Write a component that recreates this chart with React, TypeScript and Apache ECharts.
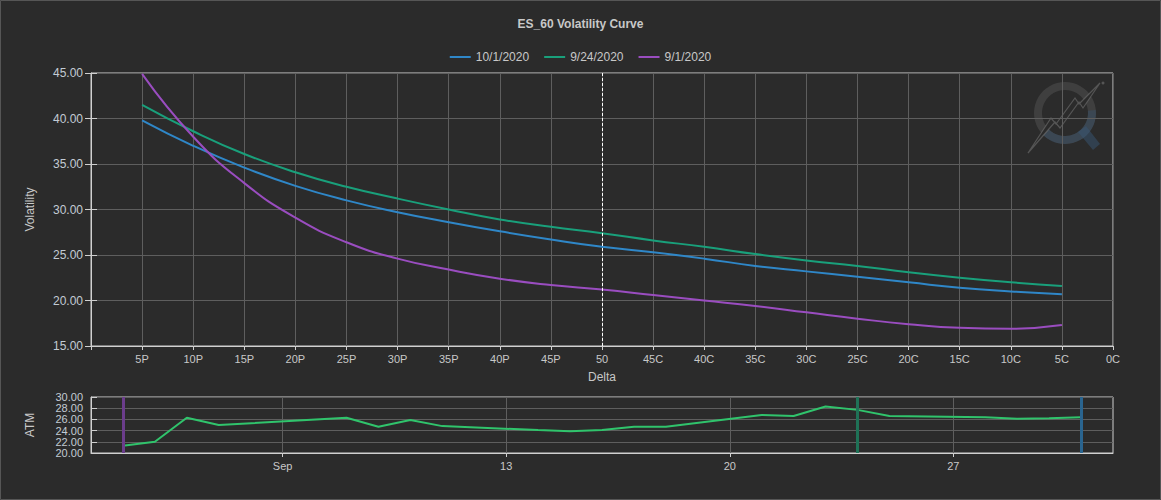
import React, { useEffect, useRef } from "react";
import * as echarts from "echarts";

// ---------- data ----------
const seriesNames = ["10/1/2020", "9/24/2020", "9/1/2020"];
const seriesDates = ["2020-10-01", "2020-09-24", "2020-09-01"];
const seriesColors = ["#2f87c8", "#19a07b", "#9a4dc0"];
const markerColors = ["#2a6590", "#1f7257", "#6b3d8c"];

// delta positions (5P ... 50 ... 5C) on a 0..100 scale
const deltaPositions = [5, 10, 15, 20, 25, 30, 35, 40, 45, 50, 55, 60, 65, 70, 75, 80, 85, 90, 95];
const xTickLabels = [
  "", "5P", "10P", "15P", "20P", "25P", "30P", "35P", "40P", "45P",
  "50", "45C", "40C", "35C", "30C", "25C", "20C", "15C", "10C", "5C", "0C",
];

const vol_10_1 = [39.8, 37.0, 34.6, 32.6, 31.0, 29.7, 28.6, 27.6, 26.7, 25.9, 25.3, 24.6, 23.8, 23.2, 22.6, 22.0, 21.4, 21.0, 20.7];
const vol_9_24 = [41.5, 38.6, 36.1, 34.1, 32.5, 31.2, 30.0, 28.9, 28.1, 27.4, 26.6, 25.9, 25.1, 24.4, 23.8, 23.1, 22.5, 22.0, 21.6];
const vol_9_1 = [44.9, 38.0, 32.9, 29.1, 26.4, 24.6, 23.4, 22.4, 21.7, 21.2, 20.6, 20.0, 19.4, 18.7, 18.0, 17.4, 17.0, 16.9, 17.3];
const volSeries = [vol_10_1, vol_9_24, vol_9_1];

const atmDates = [
  "2020-09-01", "2020-09-02", "2020-09-03", "2020-09-04", "2020-09-08", "2020-09-09",
  "2020-09-10", "2020-09-11", "2020-09-14", "2020-09-15", "2020-09-16", "2020-09-17",
  "2020-09-18", "2020-09-21", "2020-09-22", "2020-09-23", "2020-09-24", "2020-09-25",
  "2020-09-28", "2020-09-29", "2020-09-30", "2020-10-01",
];
const atmValues = [
  21.3, 22.0, 26.3, 25.0, 26.3, 24.7,
  25.9, 24.8, 24.1, 23.9, 24.1, 24.7,
  24.7, 26.8, 26.6, 28.3, 27.7, 26.6,
  26.4, 26.1, 26.2, 26.4,
];
const atmTickDates = ["2020-09-06", "2020-09-13", "2020-09-20", "2020-09-27"];
const atmTickLabels = ["Sep", "13", "20", "27"];
const atmRange = ["2020-08-31", "2020-10-02"];

// ---------- helpers ----------
const DAY = 86400000;
function calendarDays(from: string, to: string): string[] {
  const out: string[] = [];
  for (let t = Date.parse(from); t <= Date.parse(to); t += DAY) {
    out.push(new Date(t).toISOString().slice(0, 10));
  }
  return out;
}

const FONT = "'Liberation Sans', Arial, sans-serif";
const AXIS_COLOR = "#d0d0d0";
const GRID_COLOR = "#5e5e5e";
const LABEL_COLOR = "#c8c8c8";
const YLABEL_COLOR = "#c3cbd4";

function buildOption() {
  const axisDays = calendarDays(atmRange[0], atmRange[1]);
  const isTickDay = (_i: number, v: string) => atmTickDates.indexOf(v) >= 0;
  const atmData = atmDates.map((d, i) => [d, atmValues[i]]);

  const mainSeries = volSeries.map((vals, i) => ({
    name: seriesNames[i],
    type: "line",
    xAxisIndex: 0,
    yAxisIndex: 0,
    smooth: true,
    showSymbol: false,
    symbol: "none",
    color: seriesColors[i],
    lineStyle: { width: 2, color: seriesColors[i] },
    data: vals.map((v, j) => [deltaPositions[j], v]),
    z: 3,
    ...(i === 0
      ? {
          markLine: {
            silent: true,
            symbol: ["none", "none"],
            label: { show: false },
            lineStyle: { color: "#ffffff", type: [3, 2], width: 1 },
            data: [{ xAxis: 50 }],
          },
        }
      : {}),
  }));

  return {
    animation: false,
    backgroundColor: "#2b2b2b",
    textStyle: { fontFamily: FONT },
    title: {
      text: "ES_60 Volatility Curve",
      left: "center",
      top: 13,
      textStyle: { color: LABEL_COLOR, fontSize: 12, fontWeight: "bold", fontFamily: FONT },
    },
    legend: {
      top: 46,
      left: "center",
      icon: "rect",
      itemWidth: 21,
      itemHeight: 2,
      itemGap: 15,
      textStyle: { color: LABEL_COLOR, fontSize: 12, fontFamily: FONT },
      data: seriesNames,
    },
    grid: [
      { left: 91, right: 48, top: 73, height: 273, show: true, borderColor: AXIS_COLOR, borderWidth: 1 },
      { left: 91, right: 48, top: 397, height: 56, show: true, borderColor: AXIS_COLOR, borderWidth: 1 },
    ],
    xAxis: [
      {
        gridIndex: 0,
        type: "value",
        min: 0,
        max: 100,
        interval: 5,
        name: "Delta",
        nameLocation: "middle",
        nameGap: 25,
        nameTextStyle: { color: LABEL_COLOR, fontSize: 12 },
        axisLine: { show: true, lineStyle: { color: AXIS_COLOR } },
        axisTick: { show: true, length: 4, lineStyle: { color: AXIS_COLOR } },
        axisLabel: {
          color: LABEL_COLOR,
          fontSize: 11,
          margin: 7,
          formatter: (v: number) => xTickLabels[Math.round(v / 5)] ?? "",
        },
        splitLine: { show: true, lineStyle: { color: GRID_COLOR } },
      },
      {
        gridIndex: 1,
        type: "category",
        data: axisDays,
        boundaryGap: false,
        axisLine: { show: true, lineStyle: { color: AXIS_COLOR } },
        axisTick: { show: true, length: 4, interval: isTickDay, lineStyle: { color: AXIS_COLOR } },
        axisLabel: {
          color: LABEL_COLOR,
          fontSize: 11,
          margin: 7,
          interval: isTickDay,
          formatter: (v: string) => {
            const k = atmTickDates.indexOf(v);
            return k >= 0 ? atmTickLabels[k] : "";
          },
        },
        splitLine: { show: true, interval: isTickDay, lineStyle: { color: GRID_COLOR } },
      },
    ],
    yAxis: [
      {
        gridIndex: 0,
        type: "value",
        min: 15,
        max: 45,
        interval: 5,
        name: "Volatility",
        nameLocation: "middle",
        nameGap: 55,
        nameTextStyle: { color: LABEL_COLOR, fontSize: 12 },
        axisLine: { show: true, lineStyle: { color: AXIS_COLOR } },
        axisTick: { show: true, length: 6, lineStyle: { color: AXIS_COLOR } },
        axisLabel: { color: YLABEL_COLOR, fontSize: 12, margin: 8, formatter: (v: number) => v.toFixed(2) },
        splitLine: { show: true, lineStyle: { color: GRID_COLOR } },
      },
      {
        gridIndex: 0,
        type: "value",
        min: 15,
        max: 45,
        interval: 5,
        position: "left",
        axisLine: { show: false },
        axisTick: { show: true, inside: true, length: 6, lineStyle: { color: AXIS_COLOR } },
        axisLabel: { show: false },
        splitLine: { show: false },
      },
      {
        gridIndex: 1,
        type: "value",
        min: 20,
        max: 30,
        interval: 2,
        name: "ATM",
        nameLocation: "middle",
        nameGap: 55,
        nameTextStyle: { color: LABEL_COLOR, fontSize: 12 },
        axisLine: { show: true, lineStyle: { color: AXIS_COLOR } },
        axisTick: { show: true, inside: true, length: 6, lineStyle: { color: AXIS_COLOR } },
        axisLabel: { color: YLABEL_COLOR, fontSize: 11, margin: 8, formatter: (v: number) => v.toFixed(2) },
        splitLine: { show: true, lineStyle: { color: GRID_COLOR } },
      },
    ],
    series: [
      ...mainSeries,
      {
        name: "ATM",
        type: "line",
        xAxisIndex: 1,
        yAxisIndex: 2,
        showSymbol: false,
        symbol: "none",
        color: "#30c46c",
        lineStyle: { width: 2, color: "#30c46c" },
        data: atmData,
        z: 3,
        markLine: {
          silent: true,
          symbol: ["none", "none"],
          label: { show: false },
          data: seriesDates.map((d, i) => ({
            xAxis: d,
            lineStyle: { color: markerColors[i], width: 3, type: "solid" },
          })),
        },
      },
    ],
    graphic: [
      {
        type: "rect",
        silent: true,
        shape: { x: 0.5, y: 0.5, width: 1160, height: 499 },
        style: { fill: "none", stroke: "#565656", lineWidth: 1 },
      },
      {
        type: "group",
        silent: true,
        z: -1,
        children: [
          {
            type: "ring",
            shape: { cx: 1065, cy: 113, r: 31, r0: 23 },
            style: { fill: "rgba(110,110,110,0.3)" },
          },
          {
            type: "sector",
            shape: { cx: 1065, cy: 113, r: 31, r0: 23, startAngle: -0.1, endAngle: Math.PI * 0.75 },
            style: { fill: "rgba(55,85,115,0.4)" },
          },
          {
            type: "polygon",
            shape: { points: [[1078, 132], [1086, 126], [1100, 144], [1093, 150]] },
            style: { fill: "rgba(55,85,115,0.5)" },
          },
          {
            type: "polygon",
            shape: {
              points: [
                [1028, 153], [1051, 118], [1056, 124], [1075, 98], [1079, 104], [1100, 83],
                [1083, 108], [1079, 102], [1060, 128], [1055, 122],
              ],
            },
            style: { fill: "#2b2b2b", stroke: "rgba(120,120,120,0.55)", lineWidth: 1.2 },
          },
          {
            type: "circle",
            shape: { cx: 1103, cy: 83, r: 1.5 },
            style: { fill: "rgba(120,120,120,0.55)" },
          },
        ],
      },
    ],
  };
}

export default function App() {
  const ref = useRef<HTMLDivElement>(null);
  useEffect(() => {
    if (!ref.current) return;
    const chart = echarts.init(ref.current, null, { renderer: "svg" });
    chart.setOption(buildOption() as any);
    return () => chart.dispose();
  }, []);
  return (
    <div
      ref={ref}
      style={{ position: "fixed", left: 0, top: 0, width: 1161, height: 500, background: "#2b2b2b" }}
    />
  );
}
